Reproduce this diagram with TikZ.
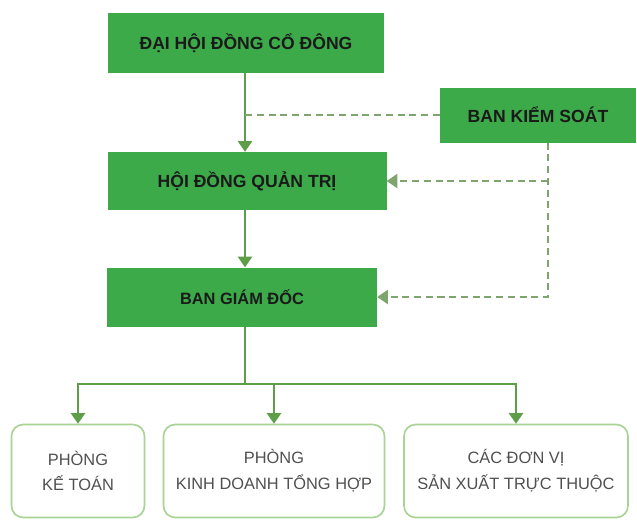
\documentclass[tikz,border=0pt]{standalone}
\usepackage{fontspec}
\setmainfont{Liberation Sans}
\usepackage{tikz}
\usetikzlibrary{positioning,arrows.meta,calc}
\definecolor{boxgreen}{HTML}{3DAA4A}
\definecolor{linegreen}{HTML}{5E9E48}
\definecolor{dashgreen}{HTML}{7FA56E}
\definecolor{rimgreen}{HTML}{A9D295}
\definecolor{ink}{HTML}{1A1A1A}
\definecolor{ink2}{HTML}{505050}

\begin{document}
\begin{tikzpicture}[x=0.03cm, y=-0.03cm,
  >={Triangle[length=9pt,width=12pt]},
  head/.style={fill=boxgreen, draw=none, text=ink, font=\fontsize{15}{17}\selectfont\bfseries, align=center},
  unit/.style={draw=rimgreen, line width=1.4pt, rounded corners=10pt, fill=white, text=ink2,
    minimum height=93*0.03cm, font=\fontsize{14}{22}\selectfont, align=center},
  link/.style={draw=linegreen, line width=1.6pt},
  ctrl/.style={draw=dashgreen, line width=1.6pt, dash pattern=on 6pt off 4pt}]
\useasboundingbox[fill=white] (0,0) rectangle (637,521);
% ---------------- governance boxes
\node[head, minimum width=276*0.03cm, minimum height=60*0.03cm] (dhcd) at (246,43) {ĐẠI HỘI ĐỒNG CỔ ĐÔNG};
\node[head, minimum width=279*0.03cm, minimum height=58*0.03cm] (hdqt) at (247,181) {HỘI ĐỒNG QUẢN TRỊ};
\node[head, minimum width=270*0.03cm, minimum height=59*0.03cm, font=\fontsize{14}{16}\selectfont\bfseries] (bgd) at (242,297) {BAN GIÁM ĐỐC};
\node[head, minimum width=196*0.03cm, minimum height=55*0.03cm] (bks) at (538,115) {BAN KIỂM SOÁT};
\coordinate (spine) at (245,0);
\draw[link, ->] (dhcd.south -| spine) -- (hdqt.north -| spine);
\draw[link, ->] (hdqt.south -| spine) -- (bgd.north -| spine);
% ---------------- supervision (dashed)
\coordinate (drop) at (548,298);
\draw[ctrl] (bks.west) -- (bks.west -| spine);
\draw[ctrl, ->] (bks.south -| drop) |- (bgd.east);
\draw[ctrl, ->] (hdqt.east -| drop) -- (hdqt.east);
% ---------------- departments
\node[unit, minimum width=133*0.03cm] (kt) at (78,471) {PHÒNG\\KẾ TOÁN};
\node[unit, minimum width=221*0.03cm] (kd) at (274,471) {PHÒNG\\KINH DOANH TỔNG HỢP};
\node[unit, minimum width=224*0.03cm] (sx) at (516,471) {CÁC ĐƠN VỊ\\SẢN XUẤT TRỰC THUỘC};
\coordinate (bus) at (245,384);
\foreach \d in {kt,kd,sx} \draw[link, ->] (bgd.south -| bus) -- (bus) -| (\d.north);
\end{tikzpicture}
\end{document}
